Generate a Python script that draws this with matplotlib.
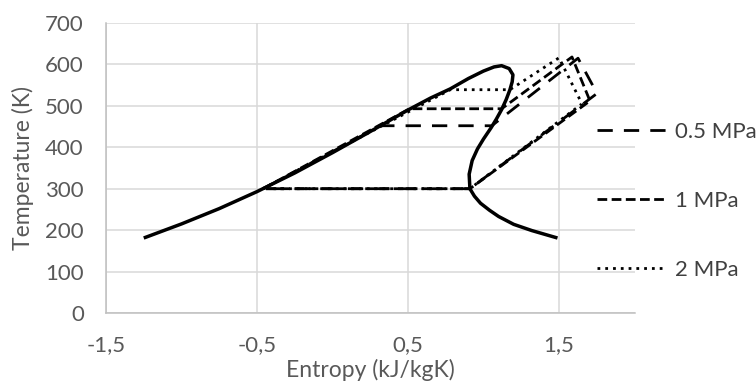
import matplotlib
matplotlib.use('Agg')
import matplotlib.pyplot as plt
import matplotlib.ticker as tkr

plt.rcParams['font.family'] = ['Lato', 'DejaVu Sans']

# saturation dome: liquid branch then vapour branch
liq_s = [-1.25, -1.0, -0.75, -0.5, -0.25, 0.0, 0.25, 0.5, 0.65, 0.78, 0.9, 1.0, 1.07, 1.12]
liq_T = [181, 215, 252, 293, 338, 387, 438, 490, 519, 541, 566, 584, 594, 597]
vap_s = [1.17, 1.195, 1.19, 1.175, 1.15, 1.12, 1.085, 1.05, 1.0, 0.96, 0.925, 0.905,
         0.91, 0.94, 0.98, 1.04, 1.1, 1.2, 1.32, 1.49]
vap_T = [590, 575, 558, 539, 515, 491, 468, 447, 420, 396, 368, 335,
         300, 282, 265, 248, 233, 214, 199, 181]

# cycles
s_05 = [-0.46, 0.32, 1.055, 1.626, 1.752, 0.91, -0.46]
T_05 = [300, 452, 452, 615, 530, 300, 300]
s_1 = [-0.46, 0.51, 1.12, 1.586, 1.705, 0.91, -0.46]
T_1 = [300, 493, 493, 618, 512, 300, 300]
s_2 = [-0.46, 0.78, 1.175, 1.5, 1.652, 0.91, -0.46]
T_2 = [300, 539, 539, 616, 505, 300, 300]

labels = ['0.5 MPa', '1 MPa', '2 MPa']

fig = plt.figure(figsize=(7.56, 3.87), dpi=100)
ax = fig.add_axes([106 / 756, 74 / 387, 528.5 / 756, 290 / 387])

ax.plot(liq_s + vap_s, liq_T + vap_T, color='black', lw=2.5,
        solid_capstyle='butt', zorder=3)
l1, = ax.plot(s_05, T_05, color='black', lw=2.0, dashes=(5.5, 4), zorder=4)
l2, = ax.plot(s_1, T_1, color='black', lw=2.0, dashes=(3.5, 1.6), zorder=4)
l3, = ax.plot(s_2, T_2, color='black', lw=2.0, dashes=(1, 1.8), zorder=4)

ax.set_xlim(-1.5, 2.0)
ax.set_ylim(0, 700)
ax.set_xticks([-1.5, -0.5, 0.5, 1.5])
ax.set_yticks(range(0, 701, 100))
ax.xaxis.set_major_formatter(tkr.FuncFormatter(lambda x, p: ('%.1f' % x).replace('.', ',')))
ax.grid(True, color='#d9d9d9', lw=1.1)
ax.set_axisbelow(True)
for side in ['top', 'right']:
    ax.spines[side].set_visible(False)
for side in ['left', 'bottom']:
    ax.spines[side].set_color('#bfbfbf')
    ax.spines[side].set_linewidth(1.1)
ax.tick_params(length=0, labelsize=16, colors='#595959')
ax.tick_params(axis='y', pad=16)
ax.tick_params(axis='x', pad=16)
ax.set_xlabel('Entropy (kJ/kgK)', fontsize=16.5, color='#595959', labelpad=3)
ax.set_ylabel('Temperature (K)', fontsize=16.5, color='#595959', labelpad=8)

fig.legend([l1, l2, l3], labels, loc='center left',
           bbox_to_anchor=(597 / 756, 1 - 201 / 387), frameon=False,
           fontsize=16, handlelength=3.1, handletextpad=0.4,
           labelspacing=2.2, borderpad=0, borderaxespad=0, labelcolor='#404040')

fig.savefig('out.png', dpi=100)
